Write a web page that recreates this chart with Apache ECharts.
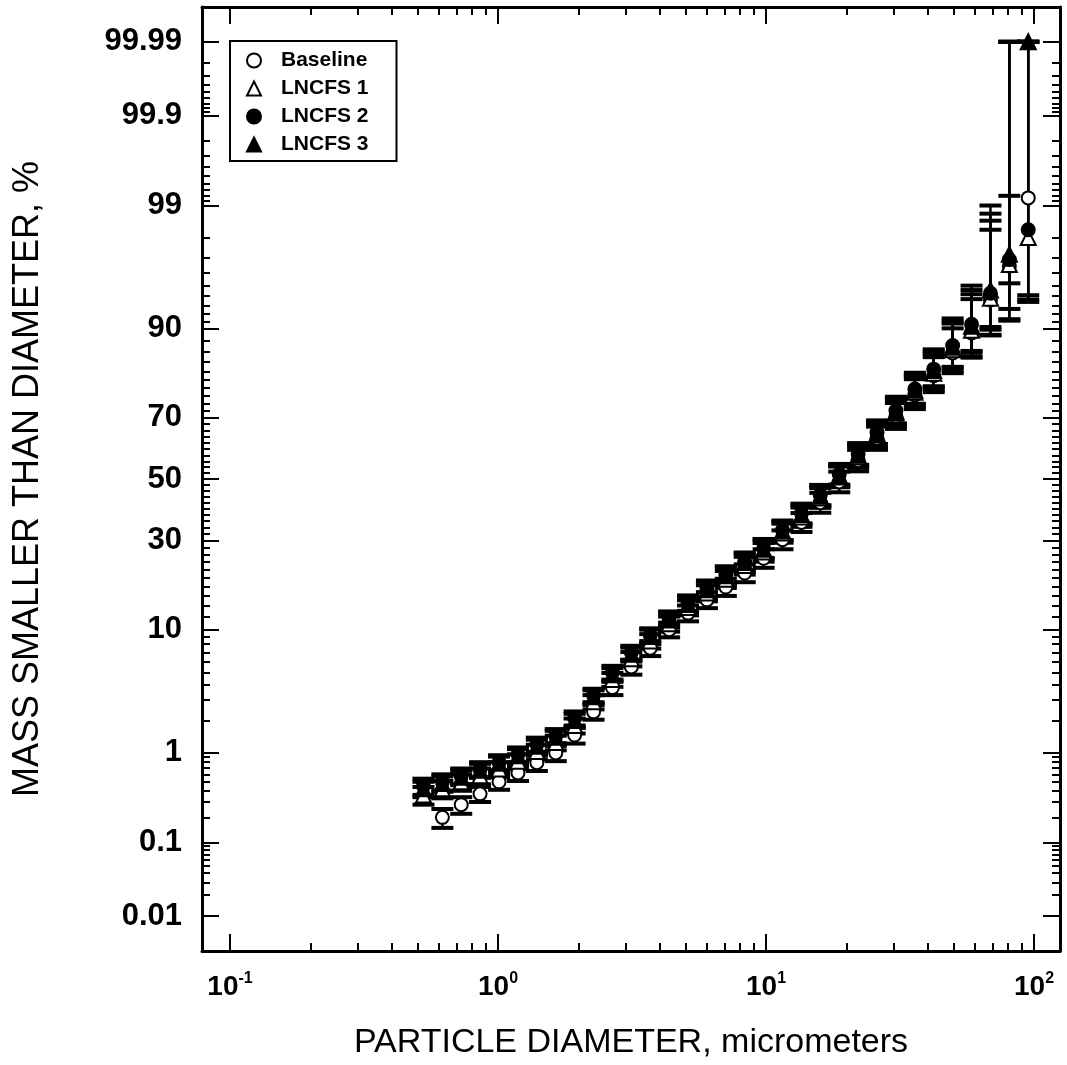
<!DOCTYPE html>
<html>
<head>
<meta charset="utf-8">
<title>Particle size distribution</title>
<script src="https://cdn.jsdelivr.net/npm/echarts@6/dist/echarts.min.js"></script>
<style>
    html, body { margin: 0; padding: 0; background: #fff; }
    #chartMain { width: 1067px; height: 1065px; }
</style>
</head>
<body>
<div id="chartMain"></div>
<script>
// particle diameter bins, micrometers
const diameters = [0.527, 0.620, 0.729, 0.857, 1.009, 1.187, 1.396, 1.642, 1.931, 2.272, 2.672,
    3.144, 3.698, 4.349, 5.117, 6.019, 7.079, 8.327, 9.795, 11.52, 13.56, 15.94, 18.76, 22.06,
    25.95, 30.53, 35.92, 42.24, 49.70, 58.46, 68.77, 80.90, 95.15]

// cumulative mass smaller than diameter, % (and its spread, %)
const baseline = [null, 0.20, 0.28, 0.37, 0.50, 0.62, 0.79, 0.99, 1.47, 2.38, 3.8, 5.5, 7.5, 10.0,
    12.7, 15.2, 17.9, 21.2, 25.0, 30.3, 35.6, 42.0, 49.0, 56.2, 63.5, 70.3, 76.3, 81.0, 85.8, 89.3,
    93.6, 96.5, 99.16]
const baselineSd = [null, 0.05, 0.06, 0.07, 0.09, 0.11, 0.14, 0.17, 0.25, 0.35, 0.5, 0.7, 0.9, 1.1,
    1.4, 1.6, 1.9, 2.2, 2.5, 2.8, 3.0, 3.3, 3.5, 3.6, 3.7, 3.8, 3.9, 4.0, 4.2, 4.4, 4.7, 5.2, 5.5]

const lncfs1 = [0.36, 0.42, 0.50, 0.58, 0.68, 0.82, 1.02, 1.25, 1.8, 2.9, 4.4, 6.3, 8.4, 10.9, 13.7,
    16.6, 19.7, 23.1, 26.7, 32.3, 37.3, 43.6, 50.7, 57.4, 64.6, 71.3, 77.0, 81.6, 86.4, 89.7, 93.8,
    96.6, 98.0]
const lncfs1Sd = [0.08, 0.09, 0.10, 0.11, 0.12, 0.14, 0.17, 0.2, 0.28, 0.4, 0.55, 0.75, 0.95, 1.2,
    1.4, 1.7, 2.0, 2.3, 2.6, 2.9, 3.1, 3.3, 3.5, 3.6, 3.7, 3.8, 3.9, 4.0, 4.3, 4.5, 4.8, 5.5, 4.6]

const lncfs2 = [0.45, 0.50, 0.58, 0.68, 0.80, 0.96, 1.2, 1.45, 2.1, 3.3, 5.0, 7.0, 9.2, 11.8, 14.6,
    17.6, 20.8, 24.2, 27.8, 33.2, 38.5, 44.6, 51.6, 58.4, 65.4, 72.0, 77.8, 82.5, 87.2, 90.6, 94.3,
    96.9, 98.3]
const lncfs2Sd = [0.09, 0.1, 0.11, 0.12, 0.14, 0.16, 0.19, 0.22, 0.3, 0.42, 0.6, 0.8, 1.0, 1.2, 1.5,
    1.8, 2.1, 2.4, 2.7, 3.0, 3.2, 3.4, 3.5, 3.6, 3.7, 3.8, 3.9, 4.0, 4.2, 4.4, 4.5, 4.3, 4.2]

const lncfs3 = [0.42, 0.48, 0.56, 0.66, 0.78, 0.93, 1.15, 1.4, 2.0, 3.2, 4.8, 6.8, 9.0, 11.5, 14.3,
    17.3, 20.5, 23.9, 27.5, 32.9, 38.1, 44.2, 51.2, 58.0, 65.0, 71.7, 77.5, 82.2, 86.9, 90.3, 94.6,
    97.2, 99.99]
const lncfs3Sd = [0.08, 0.09, 0.1, 0.11, 0.13, 0.15, 0.18, 0.21, 0.29, 0.41, 0.58, 0.78, 1.0, 1.2,
    1.5, 1.8, 2.1, 2.4, 2.7, 2.9, 3.1, 3.3, 3.4, 3.5, 3.6, 3.7, 3.8, 3.9, 4.1, 4.3, 4.4, 2.0, 0]

const seriesNames = ['Baseline', 'LNCFS 1', 'LNCFS 2', 'LNCFS 3']

// axis ticks
const xMajorTicks = [0.1, 1, 10, 100]
const xMinorTicks = [0.2, 0.3, 0.4, 0.5, 0.6, 0.7, 0.8, 0.9, 2, 3, 4, 5, 6, 7, 8, 9,
    20, 30, 40, 50, 60, 70, 80, 90]
const yMajorTicks = [0.01, 0.1, 1, 10, 30, 50, 70, 90, 99, 99.9, 99.99]
const yTickLabels = ['0.01', '0.1', '1', '10', '30', '50', '70', '90', '99', '99.9', '99.99']
const yMinorTicks = [0.02, 0.03, 0.04, 0.05, 0.06, 0.07, 0.08, 0.09,
    0.2, 0.3, 0.4, 0.5, 0.6, 0.7, 0.8, 0.9, 2, 3, 4, 5, 6, 7, 8, 9,
    12, 14, 16, 18, 20, 22, 24, 26, 28, 32, 34, 36, 38, 40, 42, 44, 46, 48,
    52, 54, 56, 58, 60, 62, 64, 66, 68, 72, 74, 76, 78, 80, 82, 84, 86, 88,
    91, 92, 93, 94, 95, 96, 97, 98, 99.1, 99.2, 99.3, 99.4, 99.5, 99.6, 99.7, 99.8,
    99.91, 99.92, 99.93, 99.94, 99.95, 99.96, 99.97, 99.98]

const xMin = 0.0786, xMax = 125
const zLimit = 4.015 // probability axis runs in normal-quantile units

// inverse normal cdf (Acklam), turns a % into the probability-paper coordinate
function probit(p) {
    const a = [-39.69683028665376, 220.9460984245205, -275.9285104469687, 138.3577518672690, -30.66479806614716, 2.506628277459239]
    const b = [-54.47609879822406, 161.5858368580409, -155.6989798598866, 66.80131188771972, -13.28068155288572]
    const c = [-0.007784894002430293, -0.3223964580411365, -2.400758277161838, -2.549671348283278, 4.374664141464968, 2.938163982698783]
    const d = [0.007784695709041462, 0.3224671290700398, 2.445134137142996, 3.754408661907416]
    const pl = 0.02425
    let q, r
    if (p < pl) {
        q = Math.sqrt(-2 * Math.log(p))
        return (((((c[0] * q + c[1]) * q + c[2]) * q + c[3]) * q + c[4]) * q + c[5]) / ((((d[0] * q + d[1]) * q + d[2]) * q + d[3]) * q + 1)
    }
    if (p > 1 - pl) {
        q = Math.sqrt(-2 * Math.log(1 - p))
        return -(((((c[0] * q + c[1]) * q + c[2]) * q + c[3]) * q + c[4]) * q + c[5]) / ((((d[0] * q + d[1]) * q + d[2]) * q + d[3]) * q + 1)
    }
    q = p - 0.5
    r = q * q
    return (((((a[0] * r + a[1]) * r + a[2]) * r + a[3]) * r + a[4]) * r + a[5]) * q / (((((b[0] * r + b[1]) * r + b[2]) * r + b[3]) * r + b[4]) * r + 1)
}
const toZ = (pct) => probit(pct / 100)

function points(values) {
    return diameters.map((d, i) => (values[i] == null ? null : [d, toZ(values[i])])).filter(Boolean)
}
function errorBars(values, sd) {
    return diameters
        .map((d, i) => {
            if (values[i] == null) return null
            const lo = Math.max(values[i] - sd[i], 0.01)
            const hi = Math.min(values[i] + sd[i], 99.99)
            return [d, toZ(lo), toZ(hi)]
        })
        .filter(Boolean)
}

function renderErrorBar(params, api) {
    const x = api.value(0)
    const lo = api.coord([x, api.value(1)])
    const hi = api.coord([x, api.value(2)])
    const half = 11
    const bar = { stroke: '#000', lineWidth: 2.5 }
    const cap = { stroke: '#000', lineWidth: 4 }
    return {
        type: 'group',
        children: [
            { type: 'line', shape: { x1: lo[0], y1: lo[1], x2: hi[0], y2: hi[1] }, style: bar },
            { type: 'line', shape: { x1: lo[0] - half, y1: lo[1], x2: lo[0] + half, y2: lo[1] }, style: cap },
            { type: 'line', shape: { x1: hi[0] - half, y1: hi[1], x2: hi[0] + half, y2: hi[1] }, style: cap },
        ],
    }
}

const font = 'Liberation Sans, Arial, Helvetica, sans-serif'
const axisLineStyle = { color: '#000', width: 3 }
const tickLineStyle = { color: '#000', width: 2 }

// ticks on all four sides: long majors and short minors on separate axes
function xAxisOf(position, ticks, length, showLine) {
    return {
        type: 'log',
        logBase: 10,
        position: position,
        min: xMin,
        max: xMax,
        axisLine: { show: showLine, onZero: false, lineStyle: axisLineStyle },
        axisTick: { show: true, inside: true, length: length, customValues: ticks, lineStyle: tickLineStyle },
        axisLabel: { show: false },
        splitLine: { show: false },
    }
}
function yAxisOf(position, ticks, length, showLine) {
    return {
        type: 'value',
        position: position,
        min: -zLimit,
        max: zLimit,
        axisLine: { show: showLine, onZero: false, lineStyle: axisLineStyle },
        axisTick: { show: true, inside: true, length: length, customValues: ticks.map(toZ), lineStyle: tickLineStyle },
        axisLabel: { show: false },
        splitLine: { show: false },
    }
}

const xMain = xAxisOf('bottom', xMajorTicks, 17, true)
xMain.name = 'PARTICLE DIAMETER, micrometers'
xMain.nameLocation = 'middle'
xMain.nameGap = 75
xMain.nameTextStyle = { fontFamily: font, fontSize: 34, color: '#000' }
xMain.axisLabel = {
    show: true,
    customValues: xMajorTicks,
    margin: 20,
    formatter: (v) => '{b|10}{s|' + Math.round(Math.log10(v)) + '}',
    rich: {
        b: { fontFamily: font, fontSize: 28, fontWeight: 'bold', color: '#000', lineHeight: 32 },
        s: { fontFamily: font, fontSize: 16, fontWeight: 'bold', color: '#000', lineHeight: 16, verticalAlign: 'top' },
    },
}

const yMain = yAxisOf('left', yMajorTicks, 17, true)
yMain.name = 'MASS SMALLER THAN DIAMETER, %'
yMain.nameLocation = 'middle'
yMain.nameRotate = 90
yMain.nameGap = 156
yMain.nameTextStyle = { fontFamily: font, fontSize: 36, color: '#000' }
yMain.axisLabel = {
    show: true,
    customValues: yMajorTicks.map(toZ),
    margin: 20,
    fontFamily: font,
    fontSize: 31,
    fontWeight: 'bold',
    color: '#000',
    formatter: (v) => {
        let best = 0
        yMajorTicks.forEach((p, i) => {
            if (Math.abs(toZ(p) - v) < Math.abs(toZ(yMajorTicks[best]) - v)) best = i
        })
        return yTickLabels[best]
    },
}

const markers = [
    { name: seriesNames[0], values: baseline, sd: baselineSd, symbol: 'circle', size: 13, fill: '#fff' },
    { name: seriesNames[1], values: lncfs1, sd: lncfs1Sd, symbol: 'triangle', size: 15, fill: '#fff' },
    { name: seriesNames[2], values: lncfs2, sd: lncfs2Sd, symbol: 'circle', size: 13, fill: '#000' },
    { name: seriesNames[3], values: lncfs3, sd: lncfs3Sd, symbol: 'triangle', size: 15, fill: '#000' },
]

const series = []
markers.forEach((m) => {
    series.push({
        name: m.name + ' error',
        type: 'custom',
        xAxisIndex: 0,
        yAxisIndex: 0,
        renderItem: renderErrorBar,
        encode: { x: 0, y: [1, 2] },
        data: errorBars(m.values, m.sd),
        z: 1,
        silent: true,
    })
})
markers.forEach((m) => {
    series.push({
        name: m.name,
        type: 'scatter',
        xAxisIndex: 0,
        yAxisIndex: 0,
        symbol: m.symbol,
        symbolSize: m.size,
        itemStyle: { color: m.fill, borderColor: '#000', borderWidth: 2, opacity: 1 },
        data: points(m.values),
        z: 2,
    })
})

const chart = echarts.init(document.getElementById('chartMain'), null, { renderer: 'canvas' })
const option = {
    animation: false,
    backgroundColor: '#fff',
    grid: { left: 202, right: 7, top: 7, bottom: 114, outerBoundsMode: 'none' },
    legend: {
        data: seriesNames,
        orient: 'vertical',
        left: 230,
        top: 41,
        padding: [9, 28, 6, 16],
        itemGap: 7,
        itemWidth: 14,
        itemHeight: 14,
        borderColor: '#000',
        borderWidth: 2,
        backgroundColor: '#fff',
        textStyle: {
            fontFamily: font, fontSize: 21, fontWeight: 'bold', color: '#000', lineHeight: 20,
            padding: [0, 0, 0, 15],
        },
    },
    xAxis: [
        xMain,
        xAxisOf('bottom', xMinorTicks, 8, false),
        xAxisOf('top', xMajorTicks, 17, true),
        xAxisOf('top', xMinorTicks, 8, false),
    ],
    yAxis: [
        yMain,
        yAxisOf('left', yMinorTicks, 8, false),
        yAxisOf('right', yMajorTicks, 17, true),
        yAxisOf('right', yMinorTicks, 8, false),
    ],
    series: series,
}
chart.setOption(option)
</script>
</body>
</html>
